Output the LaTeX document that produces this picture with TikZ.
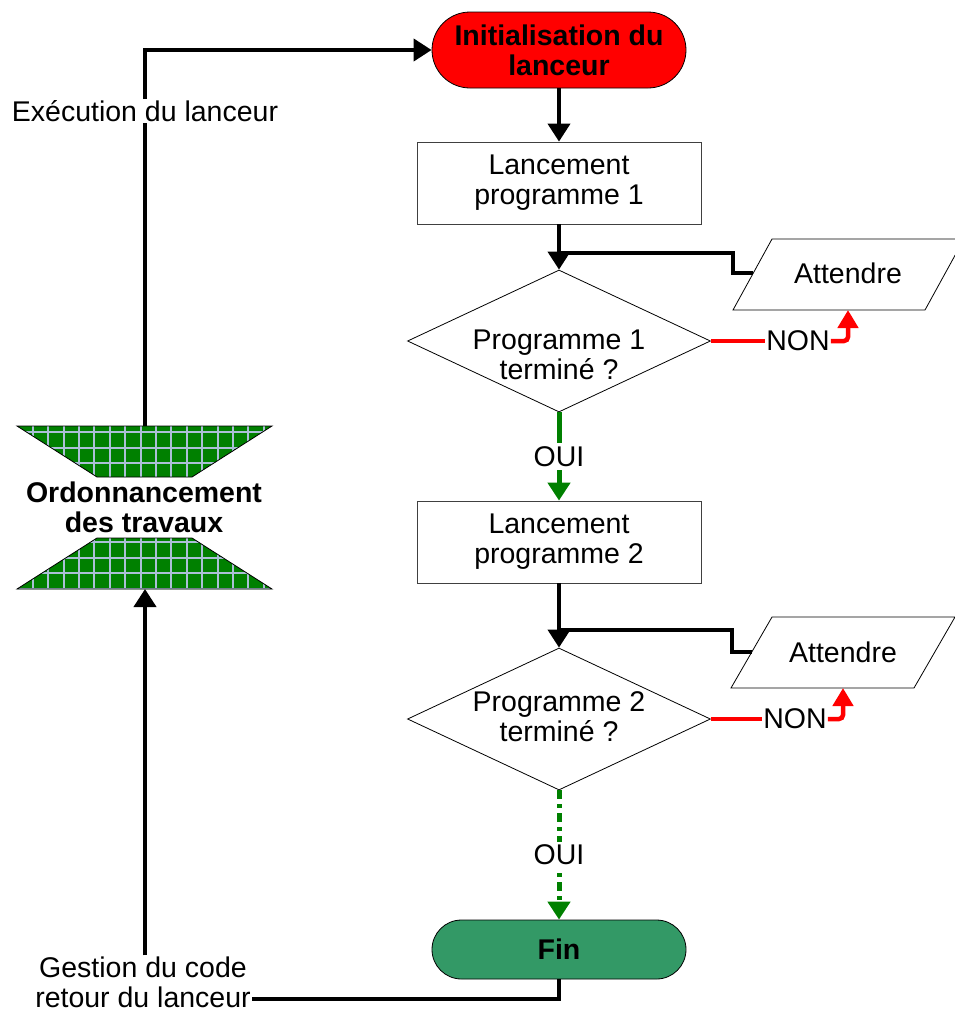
\documentclass[tikz,border=0pt]{standalone}
\usepackage{fontspec}
\setmainfont{Liberation Sans}
\usetikzlibrary{arrows.meta,shapes.geometric,calc}

\definecolor{hgreen}{RGB}{0,128,0}
\definecolor{gridblue}{RGB}{170,192,214}
\definecolor{finteal}{RGB}{51,153,102}
\definecolor{tred}{RGB}{255,0,0}

\begin{document}
\begin{tikzpicture}[x=1pt,y=-1pt,
  txt/.style={font=\fontsize{28.5}{30}\selectfont, align=center, inner sep=1pt, text=black},
  btxt/.style={font=\fontsize{28.5}{30}\selectfont\bfseries, align=center, inner sep=1pt, text=black},
  term/.style={btxt, draw=black, line width=0.8pt, minimum width=254pt, inner sep=0pt},
  proc/.style={txt, draw=black!75, line width=0.8pt, minimum width=284pt, minimum height=82pt, inner sep=0pt},
  dec/.style={diamond, draw=black, line width=0.8pt, aspect=2.13, minimum width=303pt, minimum height=142pt, inner sep=0pt},
  outline/.style={draw=black, line width=0.8pt},
  wire/.style={line width=4pt, black},
  conn/.style={wire, -{Triangle[width=22pt,length=18pt]}},
  nonline/.style={line width=4.5pt, tred},
  nonarrow/.style={nonline, rounded corners=4pt, -{Triangle[width=20pt,length=18pt]}},
  ouiarrow/.style={line width=5pt, hgreen, -{Triangle[width=22pt,length=18pt]}},
  ouidash/.style={ouiarrow, dash pattern=on 9pt off 5pt on 4pt off 5pt},
  gridline/.style={gridblue, line width=2pt},
]
\useasboundingbox (0,0) rectangle (954,1012);

% ---- main column ----
\node[term, fill=tred, minimum height=76pt, rounded corners=38pt] (init) at (559,50) {Initialisation du\\lanceur};
\node[proc] (b1) at (559,183) {Lancement\\programme 1};
\node[dec] (d1) at (559,341) {};
\node[txt] (d1t) at (559,355) {Programme 1\\terminé ?};
\node[proc] (b2) at (559,542) {Lancement\\programme 2};
\node[dec] (d2) at (559,719) {};
\node[txt] (d2t) at (559,717) {Programme 2\\terminé ?};
\node[term, fill=finteal, minimum height=59pt, rounded corners=29.5pt] (fin) at (559,949.5) {Fin};

% ---- waiting boxes ----
\draw[outline] (733,310) -- (925,310) -- (964,239) -- (772,239) -- cycle;
\node[txt] (att1) at (848,273) {Attendre};
\coordinate (att1w) at (753.3,273);
\coordinate (att1s) at (848,310);
\draw[outline] (731,688) -- (914,688) -- (955,617) -- (772,617) -- cycle;
\node[txt] (att2) at (843,652) {Attendre};
\coordinate (att2w) at (751.8,652);
\coordinate (att2s) at (843,688);

% ---- scheduler hourglass ----
\begin{scope}
  \clip (17,426) -- (272,426) -- (192,477) -- (97,477) -- cycle
        (97,538) -- (192,538) -- (272,589) -- (17,589) -- cycle;
  \fill[hgreen] (0,400) rectangle (300,610);
  \foreach \k in {-2,...,17} \draw[gridline] ({32.7+15.4*\k},400) -- ++(0,210);
  \foreach \k in {-2,...,12} \draw[gridline] (0,{432+15.7*\k}) -- ++(300,0);
\end{scope}
\draw[outline] (17,426) -- (272,426) -- (192,477) -- (97,477) -- cycle;
\draw[outline] (97,538) -- (192,538) -- (272,589) -- (17,589) -- cycle;
\node[btxt] (ord) at (144,507) {Ordonnancement\\des travaux};
\coordinate (hgtop) at (145,426);
\coordinate (hgbot) at (145,589);

% ---- side labels ----
\node[txt, fill=white] (exec) at (145,111) {Exécution du lanceur};
\node[txt] (gest) at (143,982) {Gestion du code\\retour du lanceur};
\coordinate (ret) at (gest.east |- 0,999);

% ---- connectors ----
\draw[conn] (init.south) -- (b1.north);
\draw[conn] (b1.south) -- (d1.north);
\coordinate (j1) at (559,253);
\draw[wire] (j1) -| (733,273) -- (att1w);
\draw[nonline] (d1.east) -- (765,341);
\node[txt] (non1) at (798,341) {NON};
\draw[nonarrow] (non1.east) -| (att1s);
\draw[ouiarrow] (d1.south) -- node[txt, fill=white, inner sep=3pt] (oui1) {OUI} (b2.north);

\draw[conn] (b2.south) -- (d2.north);
\coordinate (j2) at (559,630);
\draw[wire] (j2) -| (732,652) -- (att2w);
\draw[nonline] (d2.east) -- (762,719);
\node[txt] (non2) at (795,719) {NON};
\draw[nonarrow] (non2.east) -| (att2s);
\draw[ouidash] (d2.south) -- node[txt, fill=white, inner sep=3pt] (oui2) {OUI} (fin.north);

\draw[wire] (hgtop) -- (exec.south);
\draw[conn] (exec.north) |- (init.west);
\draw[conn] (hgbot |- gest.north) -- (hgbot);
\draw[wire] (fin.south) |- (ret);
\end{tikzpicture}
\end{document}
